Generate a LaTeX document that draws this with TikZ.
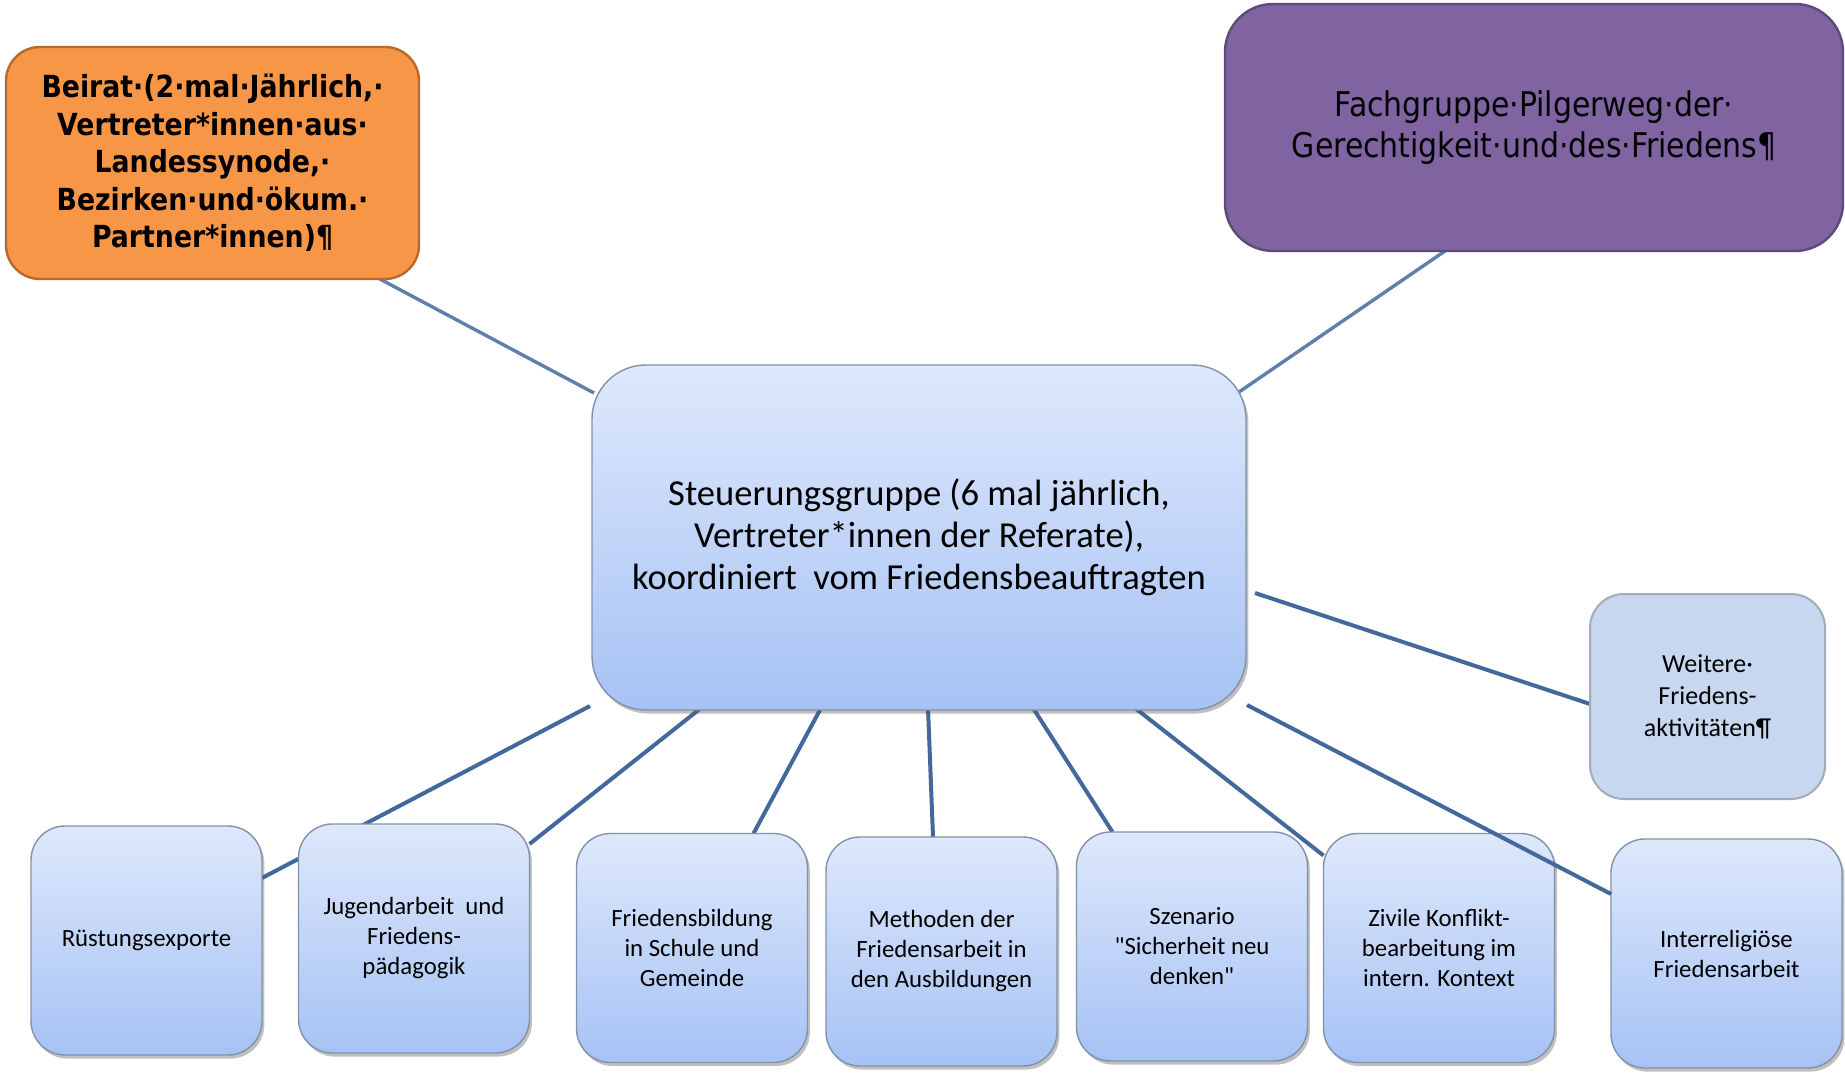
\documentclass[tikz,border=0pt]{standalone}
\usepackage{fontspec}
\setmainfont{Carlito}[Ligatures=TeXOff]
\newfontfamily\tahoma[FakeStretch=0.88]{DejaVu Sans}
\usetikzlibrary{calc,shadows}
\definecolor{bluetop}{HTML}{DEE8FB}
\definecolor{bluebot}{HTML}{A6C2F5}
\definecolor{boxline}{HTML}{8391A8}
\definecolor{conncol}{HTML}{43699C}
\definecolor{orangefill}{HTML}{F79646}
\definecolor{orangeline}{HTML}{B8692C}
\definecolor{purplefill}{HTML}{8064A2}
\definecolor{purpleline}{HTML}{5E4A7A}
\definecolor{weiterefill}{HTML}{C6D7EF}
\definecolor{weitereline}{HTML}{A3ABBA}
\pgfdeclarelayer{bg}
\pgfdeclarelayer{paper}
\pgfsetlayers{paper,bg,main}
\tikzset{
  bluebox/.style={draw=boxline, line width=0.7pt, rounded corners=17pt,
    top color=bluetop, bottom color=bluebot,
    drop shadow={shadow xshift=1.2pt, shadow yshift=-1.8pt, opacity=0.35, fill=black!70},
    inner sep=0pt, outer sep=0pt, align=center,
    minimum width=115.5pt, minimum height=114.5pt,
    font=\fontsize{12.4}{15}\selectfont},
  conn/.style={draw=conncol, line width=2pt},
  connlight/.style={draw=conncol!85!white, line width=1.7pt}
}
\begin{document}
\begin{tikzpicture}[x=0.5pt,y=-0.5pt]
\useasboundingbox (0,0) rectangle (1845,1074);
\begin{pgfonlayer}{paper}
\fill[white] (0,0) rectangle (1845,1074);
\end{pgfonlayer}

% upper boxes
\node[draw=orangeline, line width=1.2pt, fill=orangefill, rounded corners=17pt,
  minimum width=206.5pt, minimum height=116pt, inner sep=0pt, outer sep=0pt,
  align=center, font=\tahoma\bfseries\fontsize{15.2}{18.8}\selectfont]
  (beirat) at (212.5,163)
  {Beirat·(2·mal·Jährlich,·\\Vertreter*innen·aus·\\Landessynode,·\\Bezirken·und·ökum.·\\Partner*innen)¶};

\node[draw=purpleline, line width=1.2pt, fill=purplefill, rounded corners=24pt,
  minimum width=309pt, minimum height=123.5pt, inner sep=0pt, outer sep=0pt,
  align=center, font=\tahoma\fontsize{17}{20.5}\selectfont]
  (fach) at (1534,127.5)
  {Fachgruppe·Pilgerweg·der·\\Gerechtigkeit·und·des·Friedens¶};

% central box
\node[bluebox, rounded corners=27pt, minimum width=327pt, minimum height=172.5pt,
  font=\fontsize{18.3}{21}\selectfont]
  (ctr) at (919,537.5)
  {Steuerungsgruppe (6 mal jährlich,\\Vertreter*innen der Referate),\\koordiniert\ \ vom Friedensbeauftragten};

% side box
\node[draw=weitereline, line width=1pt, fill=weiterefill, rounded corners=17pt,
  minimum width=117.5pt, minimum height=102.5pt, inner sep=0pt, outer sep=0pt,
  align=center, font=\fontsize{13}{16}\selectfont]
  (weitere) at (1707.5,696.5)
  {Weitere·\\Friedens-\\aktivitäten¶};

% bottom boxes
\node[bluebox] (b1) at (146.5,940.5) {Rüstungsexporte};
\node[bluebox] (b2) at (414,938.5) {Jugendarbeit\ \ und\\Friedens-\\pädagogik};
\node[bluebox] (b3) at (692,948) {Friedensbildung\\in Schule und\\Gemeinde};
\node[bluebox] (b4) at (941.5,951.5) {Methoden der\\Friedensarbeit in\\den Ausbildungen};
\node[bluebox] (b5) at (1192,946.5) {Szenario\\"Sicherheit neu\\denken"};
\node[bluebox] (b6) at (1439,948) {Zivile Konflikt-\\bearbeitung im\\intern. Kontext};
\node[bluebox] (b7) at (1726.5,953.5) {Interreligiöse\\Friedensarbeit};

% connectors behind boxes
\begin{pgfonlayer}{bg}
\draw[connlight] ($(beirat.south west)+(372,-1)$) -- ($(ctr.north west)+(2,28)$);
\draw[connlight] ($(fach.south west)+(220,0)$) -- ($(ctr.north east)+(-7,27)$);
\draw[conn] ($(ctr.north east)+(9,228)$) -- ($(weitere.west)+(0,7.5)$);
\draw[conn] ($(ctr.south west)+(-2,-4)$) -- ($(b1.north east)+(0,52)$);
\draw[conn] ($(ctr.south west)+(109,-2)$) -- ($(b2.north east)+(0,20)$);
\draw[conn] ($(ctr.south west)+(229,-2)$) -- ($(b3.north west)+(177,0)$);
\draw[conn] ($(ctr.south west)+(336,-2)$) -- ($(b4.north west)+(107,0)$);
\draw[conn] ($(ctr.south west)+(441,-2)$) -- ($(b5.north west)+(36,0)$);
\draw[conn] ($(ctr.south west)+(543,-2)$) -- ($(b6.north west)+(0,22)$);
\end{pgfonlayer}
% connector over the Zivile box corner
\draw[conn] ($(ctr.south east)+(1,-5)$) -- ($(b7.north west)+(0,55)$);
\end{tikzpicture}
\end{document}
